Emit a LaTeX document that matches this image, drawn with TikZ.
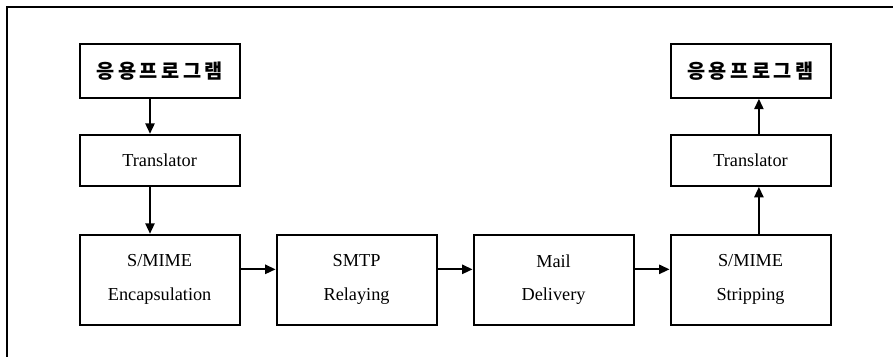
\documentclass[tikz,border=0pt]{standalone}
\usepackage{fontspec}
\setmainfont{Liberation Serif}
\newfontfamily\krfont{Noto Sans CJK KR}[LetterSpace=18]
\usetikzlibrary{arrows.meta,positioning}
\tikzset{
  app/.style={draw, line width=1.4pt, minimum width=4.0cm, minimum height=1.35cm, inner sep=0pt, font=\krfont\bfseries\fontsize{14}{16}\selectfont},
  trans/.style={draw, line width=1.4pt, minimum width=4.0cm, minimum height=1.28cm, inner sep=0pt, font=\fontsize{13}{15}\selectfont},
  stage/.style={draw, line width=1.4pt, minimum width=4.0cm, minimum height=2.25cm, inner sep=0pt, align=center, font=\fontsize{13}{24}\selectfont},
  arrow/.style={-{Triangle[length=2.6mm,width=2.3mm]}, line width=1.3pt},
  frame/.style={line width=1.3pt}
}

\begin{document}
\begin{tikzpicture}[node distance=0.875cm and 0.875cm]
  \useasboundingbox (0,0) rectangle (22.325,-8.925);
  \draw[frame] (0.175,-8.925) -- (0.175,-0.175) -- (22.325,-0.175);

  \node[app] (app1) at (3.99,-1.77) {응용프로그램};
  \node[trans, below=of app1] (tr1) {Translator};
  \node[stage, below=1.17cm of tr1] (enc) {S/MIME\\Encapsulation};
  \node[stage, right=of enc] (smtp) {SMTP\\Relaying};
  \node[stage, right=of smtp] (mail) {Mail\\Delivery};
  \node[stage, right=of mail] (strip) {S/MIME\\Stripping};
  \node[trans, above=1.17cm of strip] (tr2) {Translator};
  \node[app, above=of tr2] (app2) {응용프로그램};

  \draw[arrow] ([xshift=-0.24cm]app1.south) -- ([xshift=-0.24cm]tr1.north);
  \draw[arrow] ([xshift=-0.24cm]tr1.south) -- ([xshift=-0.24cm]enc.north);
  \draw[arrow] ([yshift=0.26cm]enc.east) -- ([yshift=0.26cm]smtp.west);
  \draw[arrow] ([yshift=0.26cm]smtp.east) -- ([yshift=0.26cm]mail.west);
  \draw[arrow] ([yshift=0.26cm]mail.east) -- ([yshift=0.26cm]strip.west);
  \draw[arrow] ([xshift=0.21cm]strip.north) -- ([xshift=0.21cm]tr2.south);
  \draw[arrow] ([xshift=0.21cm]tr2.north) -- ([xshift=0.21cm]app2.south);
\end{tikzpicture}
\end{document}
